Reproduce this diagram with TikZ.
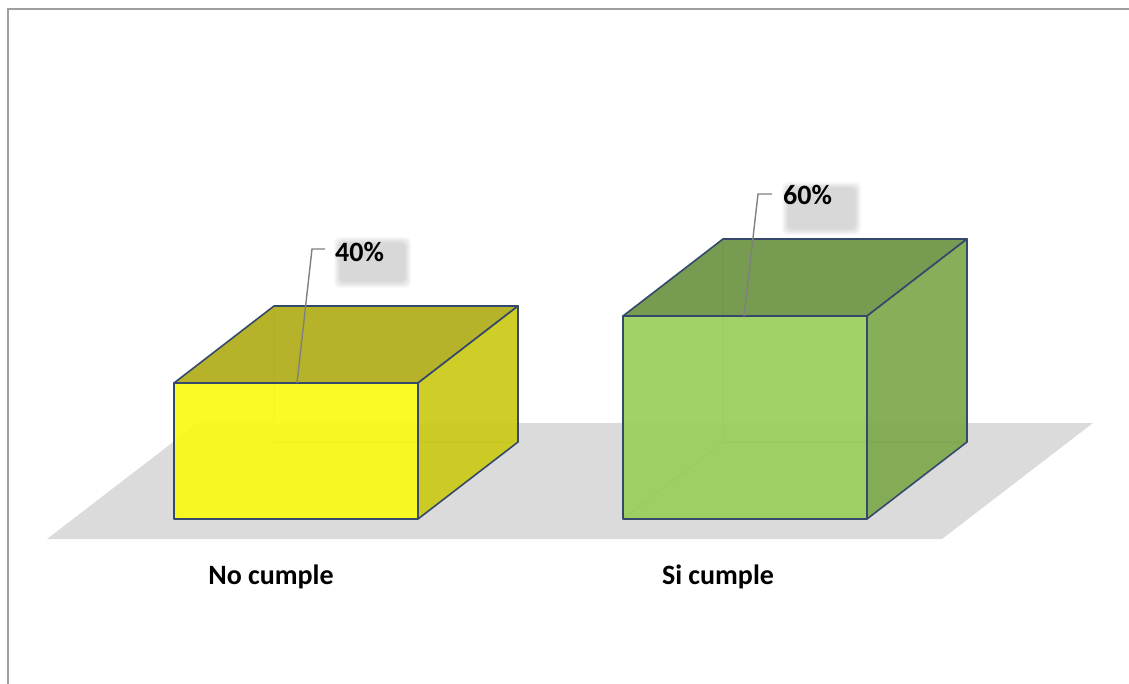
\documentclass[tikz,border=0pt]{standalone}
\usepackage{fontspec}
\setmainfont{Carlito}
\usetikzlibrary{positioning,calc}

\definecolor{floorgray}{HTML}{DCDBDC}
\definecolor{boxline}{HTML}{34496B}
\definecolor{yfront}{HTML}{FAFA14}
\definecolor{ytop}{HTML}{B0AC18}
\definecolor{yside}{HTML}{CBC916}
\definecolor{gfront}{HTML}{98CE5A}
\definecolor{gtop}{HTML}{6A9242}
\definecolor{gside}{HTML}{7DA84C}

\begin{document}
\begin{tikzpicture}[x=1pt,y=-1pt,
    edge/.style={draw=boxline, line width=1.6pt, line join=round},
    hidden/.style={line width=1.2pt, opacity=.3},
    leader/.style={draw=gray, line width=1.4pt},
    valuelbl/.style={font=\fontsize{28}{32}\selectfont\bfseries, inner sep=0pt, anchor=base west},
    catlbl/.style={font=\fontsize{28}{32}\selectfont\bfseries, inner sep=0pt, anchor=base}
    ]
  \useasboundingbox (0,0) rectangle (1129,684);
  % chart frame and floor
  \draw[gray!75, line width=1.5pt] (8,684) -- (8,9) -- (1129,9);
  \fill[floorgray] (47,539) -- (198,423) -- (1093,423) -- (942,539) -- cycle;

  % the two bars
  \foreach \xl/\yt/\fr/\tp/\sd/\nm in {174/383/yfront/ytop/yside/no, 623/316/gfront/gtop/gside/si} {
    \pgfmathsetmacro\xr{\xl+244}
    \draw[hidden, \sd!60!black] (\xl,519) -- ++(100,-77) coordinate (\nm-back) -- (\xl+100,\yt-77);
    \draw[hidden, \sd!60!black] (\nm-back) -- (\xr+100,442);
    \filldraw[edge, fill=\tp, fill opacity=.92] (\xl,\yt) -- (\xl+100,\yt-77) -- (\xr+100,\yt-77) -- (\xr,\yt) -- cycle;
    \filldraw[edge, fill=\sd, fill opacity=.92] (\xr,\yt) -- (\xr+100,\yt-77) -- (\xr+100,442) -- (\xr,519) -- cycle;
    \filldraw[edge, fill=\fr, fill opacity=.92] (\xl,\yt) rectangle (\xr,519);
  }

  % value labels with their soft shadows
  \foreach \i in {0,...,6} {
    \fill[black, opacity=.022, rounded corners=5pt] (340-\i,243-\i) rectangle (405+\i,282+\i);
    \fill[black, opacity=.022, rounded corners=5pt] (788-\i,188-\i) rectangle (855+\i,229+\i);
  }
  \coordinate (no-top) at (297,383);
  \coordinate (si-top) at (744,316);
  \node[valuelbl] (no-val) at (335,262) {40\%};
  \node[valuelbl] (si-val) at (783,205) {60\%};
  \coordinate (no-end) at (325,249);
  \coordinate (si-end) at (772,194);
  \draw[leader] (no-top) -- ($(no-end)+(-13,0)$) -- (no-end);
  \draw[leader] (si-top) -- ($(si-end)+(-14,0)$) -- (si-end);

  % categories
  \node[catlbl] (no-cat) at (271,584) {No cumple};
  \node[catlbl] (si-cat) at (718,584) {Si cumple};
\end{tikzpicture}
\end{document}
